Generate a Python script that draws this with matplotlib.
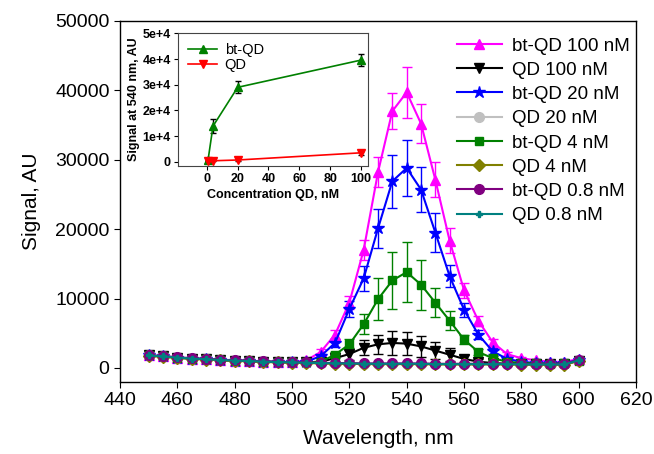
import numpy as np
import matplotlib
matplotlib.use('Agg')
import matplotlib.pyplot as plt
from matplotlib.ticker import FuncFormatter

plt.rcParams['font.family'] = ['Liberation Sans', 'DejaVu Sans']

# emission spectra, 450..600 nm in 5 nm steps
wavelength = np.arange(450, 601, 5)

bt_qd_100 = [1800, 1650, 1500, 1350, 1250, 1150, 1050, 1000, 900, 850, 800,
             1100, 2300, 4800, 9400, 17000, 28200, 37000, 39700, 35200, 27100,
             18300, 11200, 6800, 3700, 2000, 1400, 1100, 900, 850, 1300]
bt_qd_100_err = [150, 150, 150, 150, 150, 150, 150, 150, 150, 150, 150,
                 200, 400, 700, 900, 1500, 2200, 2600, 3700, 2800, 2500,
                 1800, 1100, 700, 500, 300, 200, 150, 150, 150, 150]

qd_100 = [1800, 1650, 1500, 1350, 1250, 1150, 1050, 1000, 900, 850, 800,
          800, 900, 1400, 2000, 2900, 3400, 3600, 3500, 3100, 2500,
          1900, 1300, 900, 700, 600, 600, 550, 550, 600, 1000]
qd_100_err = [150, 150, 150, 150, 150, 150, 150, 150, 150, 150, 150,
              150, 200, 500, 800, 1100, 1400, 1700, 1700, 1500, 1200,
              900, 600, 400, 300, 150, 150, 150, 150, 150, 150]

bt_qd_20 = [1800, 1650, 1500, 1350, 1250, 1150, 1050, 1000, 900, 850, 800,
            900, 1700, 3600, 8500, 12900, 20100, 26900, 28800, 25700, 19500,
            13200, 8400, 4800, 2400, 1300, 900, 700, 650, 700, 1100]
bt_qd_20_err = [150, 150, 150, 150, 150, 150, 150, 150, 150, 150, 150,
                200, 300, 600, 1200, 1800, 2800, 3800, 4000, 3300, 2800,
                1600, 1000, 600, 400, 250, 150, 150, 150, 150, 150]

qd_20 = [1800, 1650, 1500, 1350, 1250, 1150, 1050, 1000, 900, 850, 800,
         750, 700, 650, 650, 600, 600, 600, 600, 600, 550,
         550, 550, 550, 550, 550, 500, 500, 500, 500, 1100]

bt_qd_4 = [1800, 1650, 1500, 1350, 1250, 1150, 1050, 1000, 900, 850, 800,
           800, 900, 1900, 3400, 6300, 9900, 12600, 13800, 12000, 9400,
           6800, 4100, 2300, 1400, 900, 700, 650, 600, 650, 1000]
bt_qd_4_err = [150, 150, 150, 150, 150, 150, 150, 150, 150, 150, 150,
               150, 200, 400, 800, 1400, 3000, 4100, 4300, 3600, 2100,
               1400, 700, 400, 250, 150, 150, 150, 150, 150, 150]

qd_4 = [1750, 1600, 1450, 1300, 1200, 1100, 1000, 950, 850, 800, 750,
        700, 650, 600, 600, 550, 550, 550, 550, 550, 500,
        500, 500, 500, 500, 500, 450, 450, 450, 450, 1000]

bt_qd_08 = [1850, 1700, 1550, 1400, 1300, 1200, 1100, 1050, 950, 900, 850,
            800, 750, 700, 700, 650, 650, 650, 650, 650, 600,
            600, 600, 600, 600, 600, 550, 550, 550, 550, 1200]

qd_08 = [1800, 1650, 1500, 1350, 1250, 1150, 1050, 1000, 900, 850, 800,
         750, 700, 650, 650, 600, 600, 600, 600, 600, 550,
         550, 550, 550, 550, 550, 500, 500, 500, 500, 1100]

low_err = [150, 150, 150, 150, 150, 150, 150, 150, 150, 150, 150,
           150, 150, 150, 150, 150, 150, 150, 150, 150, 150,
           150, 150, 150, 150, 150, 150, 150, 150, 150, 150]

# inset: signal at 540 nm vs concentration
conc = [0.8, 4, 20, 100]
inset_bt = [800, 13900, 29000, 39600]
inset_bt_err = [300, 2600, 2300, 2200]
inset_qd = [500, 400, 700, 3500]
inset_qd_err = [150, 150, 200, 800]

series = [
    ('bt-QD 100 nM', bt_qd_100, bt_qd_100_err, '#ff00ff', '^', 7),
    ('QD 100 nM', qd_100, qd_100_err, 'black', 'v', 7),
    ('bt-QD 20 nM', bt_qd_20, bt_qd_20_err, '#0000ff', '*', 9),
    ('QD 20 nM', qd_20, low_err, '#c0c0c0', 'o', 7),
    ('bt-QD 4 nM', bt_qd_4, bt_qd_4_err, '#008000', 's', 6),
    ('QD 4 nM', qd_4, low_err, '#808000', 'D', 6),
    ('bt-QD 0.8 nM', bt_qd_08, low_err, '#800080', 'o', 7),
    ('QD 0.8 nM', qd_08, low_err, '#008080', 'P', 5),
]

fig = plt.figure(figsize=(6.54, 4.54), dpi=100)
ax = fig.add_axes([0.1835, 0.159, 0.789, 0.795])

handles = []
for label, y, err, col, mk, ms in series:
    c = ax.errorbar(wavelength, y, yerr=err, color=col, marker=mk, markersize=ms,
                    linewidth=1.5, elinewidth=1.0, capsize=3.5, label=label)
    handles.append(c[0])

ax.set_xlim(440, 620)
ax.set_ylim(-2000, 50000)
ax.set_xticks(np.arange(440, 621, 20))
ax.set_yticks(np.arange(0, 50001, 10000))
ax.tick_params(direction='out', length=4, labelsize=14, top=False, right=False)
ax.set_xlabel('Wavelength, nm', fontsize=15, labelpad=14)
ax.set_ylabel('Signal, AU', fontsize=15, labelpad=10)
for sp in ax.spines.values():
    sp.set_linewidth(1.0)

ax.legend(handles, [s[0] for s in series], loc='upper right',
          bbox_to_anchor=(1.02, 1.0), frameon=False,
          fontsize=13.5, handlelength=2.4, handletextpad=0.55,
          labelspacing=0.38, borderaxespad=0.48)

# inset
ins = fig.add_axes([0.272, 0.634, 0.2905, 0.293])
b = ins.errorbar(conc, inset_bt, yerr=inset_bt_err, color='#008000', marker='^',
                 markersize=6, linewidth=1.2, elinewidth=1.0, capsize=2.5,
                 ecolor='black')
q = ins.errorbar(conc, inset_qd, yerr=inset_qd_err, color='#ff0000', marker='v',
                 markersize=6, linewidth=1.2, elinewidth=1.0, capsize=2.5,
                 ecolor='black')
ins.set_xlim(-18.8, 104.5)
ins.set_ylim(-1700, 50100)
ins.set_xticks([0, 20, 40, 60, 80, 100])
ins.set_yticks([0, 10000, 20000, 30000, 40000, 50000])
ins.yaxis.set_major_formatter(FuncFormatter(
    lambda v, p: '0' if v == 0 else '%de+4' % round(v / 10000)))
ins.tick_params(direction='out', length=3, labelsize=9, pad=2)
for t in ins.get_xticklabels() + ins.get_yticklabels():
    t.set_fontweight('bold')
ins.set_xlabel('Concentration QD, nM', fontsize=9, fontweight='bold', labelpad=3)
ins.set_ylabel('Signal at 540 nm, AU', fontsize=9, fontweight='bold', labelpad=2)
for sp in ins.spines.values():
    sp.set_color('#444444')
    sp.set_linewidth(0.8)
ins.legend([b[0], q[0]], ['bt-QD', 'QD'], loc='upper left', frameon=False,
           fontsize=10.5, handlelength=2.0, handletextpad=0.5,
           labelspacing=0.02, borderaxespad=0.3)

fig.savefig('out.png', dpi=100)
